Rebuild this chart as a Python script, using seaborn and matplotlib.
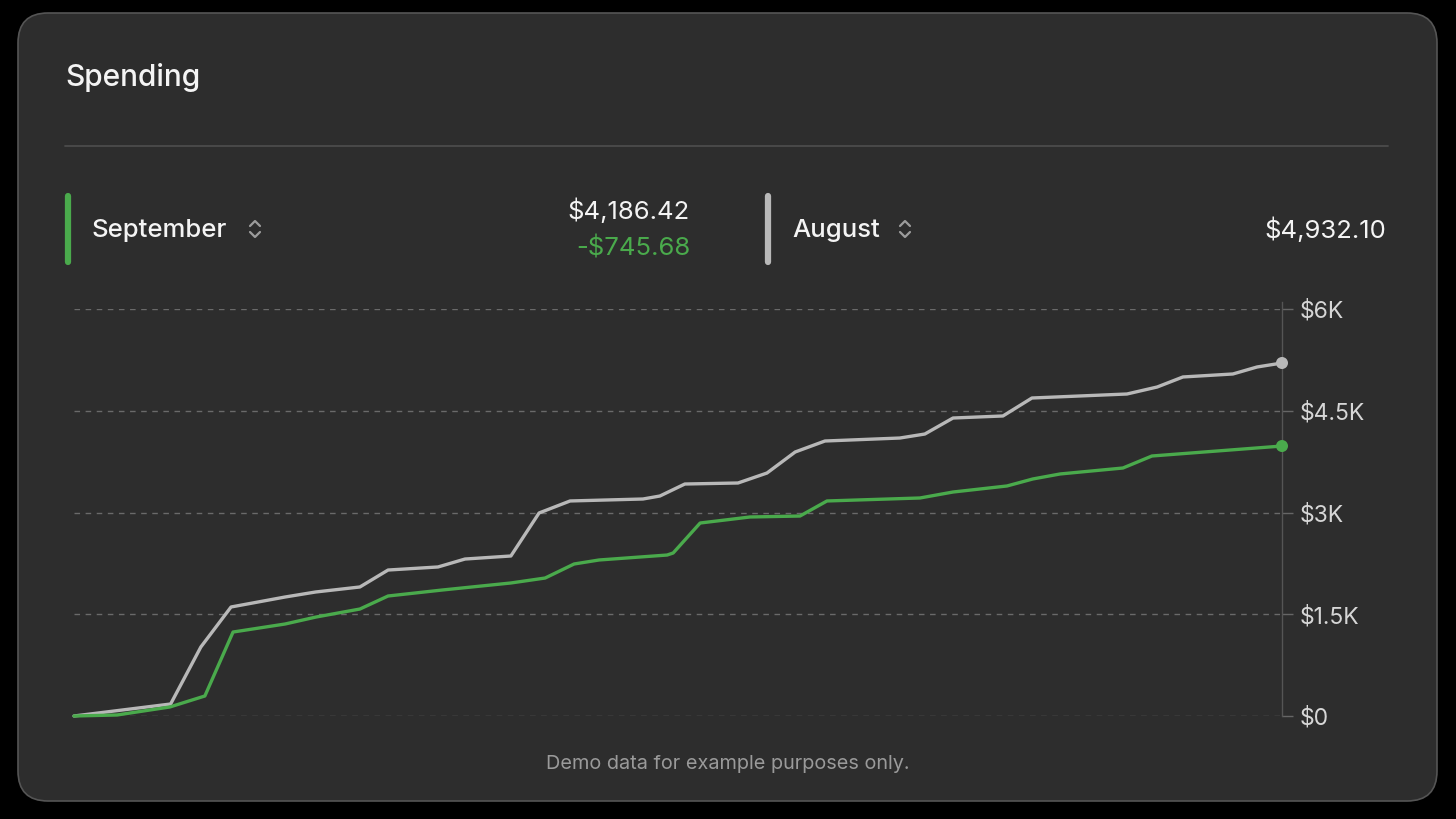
import matplotlib
matplotlib.use("Agg")
import matplotlib.pyplot as plt
from matplotlib.patches import FancyBboxPatch
import pandas as pd
import seaborn as sns

# cumulative spending (day of month, dollars)
aug_days = [0, 2.4, 3.15, 3.9, 5.24, 6.0, 7.1, 7.8, 9.04, 9.71, 10.85, 11.55, 12.32,
            14.13, 14.55, 15.17, 16.49, 17.21, 17.91, 18.65, 20.51, 21.13, 21.83,
            23.07, 23.79, 26.15, 26.9, 27.54, 28.78, 29.38, 30]
aug_spend = [0, 177, 1017, 1607, 1754, 1828, 1902, 2152, 2197, 2314, 2359, 2993, 3170,
             3199, 3243, 3420, 3435, 3582, 3892, 4054, 4098, 4157, 4393,
             4423, 4688, 4747, 4850, 4998, 5042, 5145, 5204]
sep_days = [0, 1.07, 2.38, 3.25, 3.95, 5.24, 6.01, 7.1, 7.8, 9.14, 10.85, 11.7, 12.42,
            13.04, 14.73, 14.88, 15.55, 16.79, 18.03, 18.7, 21.01, 21.83, 23.17,
            23.81, 24.49, 26.05, 26.77, 30]
sep_spend = [0, 15, 133, 295, 1238, 1356, 1459, 1577, 1769, 1857, 1961, 2034, 2241,
             2300, 2373, 2403, 2845, 2934, 2948, 3170, 3214, 3302, 3391,
             3494, 3568, 3656, 3833, 3980]

y_ticks = [0, 1500, 3000, 4500, 6000]
y_labels = ["$0", "$1.5K", "$3K", "$4.5K", "$6K"]

sep_total = "$4,186.42"
sep_diff = "-$745.68"
aug_total = "$4,932.10"

GREEN = "#4aaa4c"
GREY = "#b8b8b8"
CARD = "#2d2d2d"
TEXT = "#f4f4f4"

df = pd.concat([
    pd.DataFrame({"day": aug_days, "spend": aug_spend, "month": "August"}),
    pd.DataFrame({"day": sep_days, "spend": sep_spend, "month": "September"}),
])

sns.set_theme(style="dark")
plt.rcParams["font.family"] = ["Inter", "DejaVu Sans"]

fig = plt.figure(figsize=(14.56, 8.19), dpi=100, facecolor="black")

# pixel-space overlay for the card and header
bg = fig.add_axes([0, 0, 1, 1], zorder=0)
bg.set_xlim(0, 1456)
bg.set_ylim(819, 0)
bg.axis("off")
bg.add_patch(FancyBboxPatch((18, 13), 1419, 788, boxstyle="round,pad=0,rounding_size=30",
                            facecolor=CARD, edgecolor="#555555", linewidth=1.2))
bg.text(65, 78, "Spending", color=TEXT, fontsize=21.5, fontweight="medium", va="center")
bg.plot([65, 1388], [146, 146], color="#4c4c4c", lw=1.3)

def legend_item(x, color, name, chev_x):
    bg.plot([x, x], [196, 262], color=color, lw=4.5, solid_capstyle="round")
    bg.text(x + 24, 230, name, color=TEXT, fontsize=18.5, fontweight="medium", va="center")
    bg.plot([chev_x - 5, chev_x, chev_x + 5], [226, 221, 226], color="#9c9c9c", lw=1.6,
            solid_capstyle="round", solid_joinstyle="round")
    bg.plot([chev_x - 5, chev_x, chev_x + 5], [232, 237, 232], color="#9c9c9c", lw=1.6,
            solid_capstyle="round", solid_joinstyle="round")

legend_item(68, GREEN, "September", 255)
legend_item(768, GREY, "August", 905)
bg.text(690, 211, sep_total, color=TEXT, fontsize=18.5, ha="right", va="center")
bg.text(690, 248, sep_diff, color=GREEN, fontsize=18.5, ha="right", va="center")
bg.text(1386, 230, aug_total, color=TEXT, fontsize=18.5, ha="right", va="center")
bg.text(728, 764, "Demo data for example purposes only.", color="#9a9a9a",
        fontsize=14.3, ha="center", va="center")

# chart
ax = fig.add_axes([74 / 1456, 1 - 716 / 819, 1208 / 1456, 407 / 819], zorder=1)
ax.set_facecolor("none")
sns.lineplot(data=df, x="day", y="spend", hue="month", palette={"August": GREY, "September": GREEN},
             hue_order=["August", "September"], linewidth=2.4, legend=False, ax=ax,
             estimator=None, sort=False)
for line in ax.get_lines():
    line.set_solid_joinstyle("round")
    line.set_solid_capstyle("round")
    line.set_clip_on(False)
ax.scatter([aug_days[-1], sep_days[-1]], [aug_spend[-1], sep_spend[-1]], s=75,
           color=[GREY, GREEN], zorder=5, clip_on=False, linewidths=0)

ax.set_xlim(0, 30)
ax.set_ylim(0, 6000)
ax.set_xticks([])
ax.set_yticks(y_ticks)
ax.set_yticklabels(y_labels)
ax.yaxis.tick_right()
ax.tick_params(axis="y", length=8, width=1, color="#666666", pad=5,
               labelsize=16.5, labelcolor="#d6d6d6")
ax.grid(axis="y", color="#6a6a6a", linestyle=(0, (4, 4)), linewidth=1)
ax.grid(axis="x", visible=False)
ax.set_xlabel("")
ax.set_ylabel("")
for side in ["top", "left", "bottom"]:
    ax.spines[side].set_visible(False)
ax.spines["right"].set_color("#555555")
ax.spines["right"].set_linewidth(1)
ax.spines["right"].set_bounds(0, 6100)

fig.savefig("out.png", dpi=100, facecolor="black")
